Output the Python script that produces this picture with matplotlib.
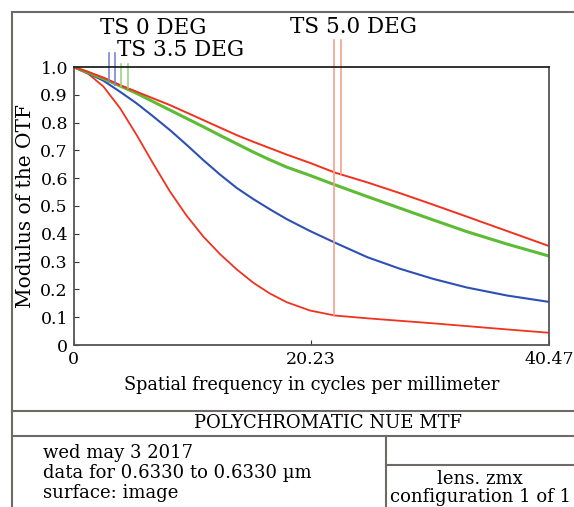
import matplotlib
matplotlib.use("Agg")
import matplotlib.pyplot as plt
from matplotlib.lines import Line2D

# spatial frequency (cycles/mm) and MTF values
freq = [0, 1.27, 2.54, 3.96, 5.38, 6.79, 8.21, 9.63, 11.05, 12.47, 13.89,
        15.3, 16.72, 18.14, 20.13, 22.26, 25.0, 27.8, 30.6, 33.46, 36.9, 40.47]
mtf_0deg = [1.0, 0.977, 0.951, 0.911, 0.869, 0.822, 0.773, 0.72, 0.665, 0.613, 0.565,
            0.525, 0.488, 0.453, 0.41, 0.368, 0.316, 0.274, 0.238, 0.207, 0.178, 0.155]
mtf_35deg = [1.0, 0.98, 0.958, 0.932, 0.905, 0.875, 0.845, 0.815, 0.785, 0.754, 0.724,
             0.694, 0.666, 0.64, 0.61, 0.576, 0.534, 0.492, 0.45, 0.408, 0.363, 0.32]
mtf_5deg_s = [1.0, 0.982, 0.962, 0.935, 0.911, 0.887, 0.863, 0.836, 0.809, 0.782, 0.755,
              0.731, 0.708, 0.685, 0.655, 0.62, 0.585, 0.546, 0.505, 0.462, 0.41, 0.356]
mtf_5deg_t = [1.0, 0.975, 0.93, 0.852, 0.755, 0.652, 0.552, 0.465, 0.39, 0.327, 0.272,
              0.224, 0.185, 0.154, 0.124, 0.106, 0.096, 0.087, 0.078, 0.068, 0.056, 0.044]

# label leader lines: x position, top and bottom value
lead_0deg_x = [3.02, 3.55]
lead_0deg_y = [(1.05, 0.947), (1.05, 0.935)]
lead_35deg_x = [4.04, 4.6]
lead_35deg_y = [(1.011, 0.932), (1.011, 0.923)]
lead_5deg_x = [22.2, 22.74]
lead_5deg_y = [(1.097, 0.106), (1.097, 0.615)]

yticks = [0, 0.1, 0.2, 0.3, 0.4, 0.5, 0.6, 0.7, 0.8, 0.9, 1.0]
ytick_labels = ['0', '0.1', '0.2', '0.3', '0.4', '0.5', '0.6', '0.7', '0.8', '0.9', '1.0']
xticks = [0, 20.23, 40.47]
xtick_labels = ['0', '20.23', '40.47']

W, H = 574, 507
plt.rcParams['font.family'] = ['DejaVu Serif']
fig = plt.figure(figsize=(W / 100, H / 100), dpi=100)


def fx(x):
    return x / W


def fy(y):
    return 1 - y / H


ax = fig.add_axes([fx(73.5), fy(345), (549 - 73.5) / W, (345 - 67) / H])
red = '#f0321e'
blue = '#2d50b4'
green = '#5dbb34'
ax.plot(freq, mtf_5deg_t, color=red, lw=1.3)
ax.plot(freq, mtf_0deg, color=blue, lw=1.5)
ax.plot(freq, mtf_35deg, color=green, lw=2.2)
ax.plot(freq, mtf_5deg_s, color=red, lw=1.4)

for xs, ys, c in [(lead_0deg_x, lead_0deg_y, '#7c84d8'),
                  (lead_35deg_x, lead_35deg_y, '#9ad483'),
                  (lead_5deg_x, lead_5deg_y, '#f7a08c')]:
    for x, (top, bot) in zip(xs, ys):
        ax.plot([x, x], [top, bot], color=c, lw=1.2, clip_on=False)

ax.set_xlim(0, 40.47)
ax.set_ylim(0, 1.0)
ax.set_yticks(yticks)
ax.set_yticklabels(ytick_labels)
ax.set_xticks(xticks)
ax.set_xticklabels(xtick_labels)
ax.tick_params(direction='in', length=3.5, labelsize=12.5, pad=4, colors='#333333',
               labelcolor='black')
for s in ax.spines.values():
    s.set_color('#555555')
    s.set_linewidth(1.3)
ax.spines['top'].set_color('#222222')
ax.set_xlabel('Spatial frequency in cycles per millimeter', fontsize=12.8, labelpad=6)
ax.set_ylabel('Modulus of the OTF', fontsize=14.5, labelpad=4)

fig.text(fx(100), fy(28), 'TS 0 DEG', fontsize=15.5, va='center', ha='left')
fig.text(fx(117), fy(50.5), 'TS 3.5 DEG', fontsize=15.5, va='center', ha='left')
fig.text(fx(290), fy(27), 'TS 5.0 DEG', fontsize=15.5, va='center', ha='left')

# zemax-style frame around the plot and the info box
frame = '#6e6a66'
frame_lines = [
    ((12, 574), (11.5, 11.5)),
    ((12, 12), (11.5, 507)),
    ((12, 574), (410.5, 410.5)),
    ((12, 574), (436, 436)),
    ((386, 386), (436, 507)),
    ((386, 574), (465, 465)),
]
for xs, ys in frame_lines:
    fig.add_artist(Line2D([fx(x) for x in xs], [fy(y) for y in ys],
                          color=frame, lw=1.5))

fig.text(fx(328), fy(423), 'POLYCHROMATIC NUE MTF', fontsize=13, ha='center', va='center')
fig.text(fx(43), fy(453), 'wed may 3 2017', fontsize=13, ha='left', va='center')
fig.text(fx(43), fy(473), 'data for 0.6330 to 0.6330 \u00b5m', fontsize=13, ha='left', va='center')
fig.text(fx(43), fy(493), 'surface: image', fontsize=13, ha='left', va='center')
fig.text(fx(480), fy(479), 'lens. zmx', fontsize=13, ha='center', va='center')
fig.text(fx(480), fy(497), 'configuration 1 of 1', fontsize=13, ha='center', va='center')

fig.savefig('out.png', dpi=100)
